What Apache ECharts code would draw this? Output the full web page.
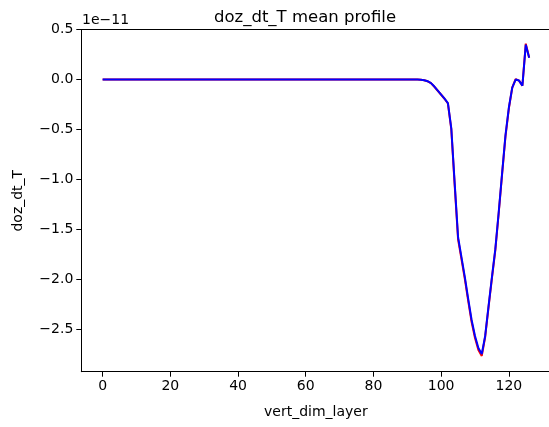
<!DOCTYPE html>
<html>
<head>
<meta charset="utf-8">
<script src="https://cdn.jsdelivr.net/npm/echarts@6/dist/echarts.min.js"></script>
<style>
html,body{margin:0;padding:0;background:#fff;}
#chart{width:549px;height:427px;}
</style>
</head>
<body>
<div id="chart"></div>
<script>
// Values are in units of 1e-11
const titleText = 'doz_dt_T mean profile';
const xName = 'vert_dim_layer';
const yName = 'doz_dt_T';
const offsetText = '1e\u221211';
const xTicks = [0, 20, 40, 60, 80, 100, 120];
const yTicks = [-2.5, -2.0, -1.5, -1.0, -0.5, 0.0, 0.5];

const layers = [
  0,1,2,3,4,5,6,7,8,9,10,11,12,13,14,15,16,17,18,19,
  20,21,22,23,24,25,26,27,28,29,30,31,32,33,34,35,36,37,38,39,
  40,41,42,43,44,45,46,47,48,49,50,51,52,53,54,55,56,57,58,59,
  60,61,62,63,64,65,66,67,68,69,70,71,72,73,74,75,76,77,78,79,
  80,81,82,83,84,85,86,87,88,89,90,91,92,93,94,95,96,97,98,99,
  100,101,102,103,104,105,106,107,108,109,110,111,112,113,114,115,116,117,118,119,
  120,121,122,123,124,125,126
];

const blueValues = [
  0,0,0,0,0,0,0,0,0,0,0,0,0,0,0,0,0,0,0,0,
  0,0,0,0,0,0,0,0,0,0,0,0,0,0,0,0,0,0,0,0,
  0,0,0,0,0,0,0,0,0,0,0,0,0,0,0,0,0,0,0,0,
  0,0,0,0,0,0,0,0,0,0,0,0,0,0,0,0,0,0,0,0,
  0,0,0,0,0,0,0,0,0,0,0,0,0,0,-0.002,-0.006,-0.016,-0.035,-0.07,-0.11,
  -0.15,-0.19,-0.235,-0.49,-1.04,-1.58,-1.78,-1.98,-2.2,-2.41,-2.57,-2.69,-2.75,-2.57,-2.27,-1.98,-1.7,-1.33,-0.94,-0.56,
  -0.28,-0.08,0.0,-0.01,-0.06,0.35,0.22
];

const redValues = [
  0,0,0,0,0,0,0,0,0,0,0,0,0,0,0,0,0,0,0,0,
  0,0,0,0,0,0,0,0,0,0,0,0,0,0,0,0,0,0,0,0,
  0,0,0,0,0,0,0,0,0,0,0,0,0,0,0,0,0,0,0,0,
  0,0,0,0,0,0,0,0,0,0,0,0,0,0,0,0,0,0,0,0,
  0,0,0,0,0,0,0,0,0,0,0,0,0,0,-0.002,-0.006,-0.017,-0.036,-0.072,-0.112,
  -0.152,-0.192,-0.24,-0.5,-1.06,-1.6,-1.8,-2.0,-2.22,-2.43,-2.59,-2.71,-2.77,-2.58,-2.28,-1.99,-1.71,-1.34,-0.95,-0.57,
  -0.29,-0.08,0.005,-0.01,-0.06,0.36,0.22
];

const font = 'DejaVu Sans';
const fmt = v => (v < 0 ? '\u2212' : '') + Math.abs(v).toFixed(1);

const chart = echarts.init(document.getElementById('chart'), null, {renderer: 'canvas'});
chart.setOption({
  animation: false,
  backgroundColor: '#fff',
  textStyle: {fontFamily: font},
  title: {
    text: titleText,
    left: 300, top: 4,
    textAlign: 'center',
    textStyle: {fontFamily: font, fontSize: 16.5, fontWeight: 'normal', color: '#000'}
  },
  graphic: [{
    type: 'text', left: 82, top: 13,
    style: {text: offsetText, font: '14px "DejaVu Sans"', fill: '#000'}
  }],
  grid: {
    left: 81.3, top: 29.7, width: 469.2, height: 342,
    show: false, containLabel: false, outerBoundsMode: 'none'
  },
  xAxis: [{
    type: 'value', min: -6.3, max: 132.3, position: 'bottom',
    name: xName, nameLocation: 'middle', nameGap: 34,
    nameTextStyle: {fontFamily: font, fontSize: 14, color: '#000'},
    axisLine: {show: true, onZero: false, lineStyle: {color: '#000', width: 1}},
    axisTick: {show: true, length: 5, customValues: xTicks, lineStyle: {color: '#000'}},
    axisLabel: {show: true, customValues: xTicks, margin: 8, fontFamily: font, fontSize: 14, color: '#000',
                formatter: v => String(v)},
    splitLine: {show: false}
  }, {
    type: 'value', min: -6.3, max: 132.3, position: 'top',
    axisLine: {show: true, onZero: false, lineStyle: {color: '#000', width: 1}},
    axisTick: {show: false}, axisLabel: {show: false}, splitLine: {show: false}
  }],
  yAxis: {
    type: 'value', min: -2.928, max: 0.5,
    name: yName, nameLocation: 'middle', nameGap: 56, nameRotate: 90,
    nameTextStyle: {fontFamily: font, fontSize: 14, color: '#000'},
    axisLine: {show: true, onZero: false, lineStyle: {color: '#000', width: 1}},
    axisTick: {show: true, length: 5, customValues: yTicks, lineStyle: {color: '#000'}},
    axisLabel: {show: true, customValues: yTicks, margin: 8, fontFamily: font, fontSize: 14, color: '#000',
                formatter: fmt},
    splitLine: {show: false}
  },
  series: [
    {
      type: 'line', name: 'red', showSymbol: false, symbol: 'none',
      data: layers.map((x, i) => [x, redValues[i]]),
      lineStyle: {color: '#ff0000', width: 2}, itemStyle: {color: '#ff0000'}, z: 2
    },
    {
      type: 'line', name: 'blue', showSymbol: false, symbol: 'none',
      data: layers.map((x, i) => [x, blueValues[i]]),
      lineStyle: {color: '#0000ff', width: 2}, itemStyle: {color: '#0000ff'}, z: 3
    }
  ]
});
</script>
</body>
</html>
